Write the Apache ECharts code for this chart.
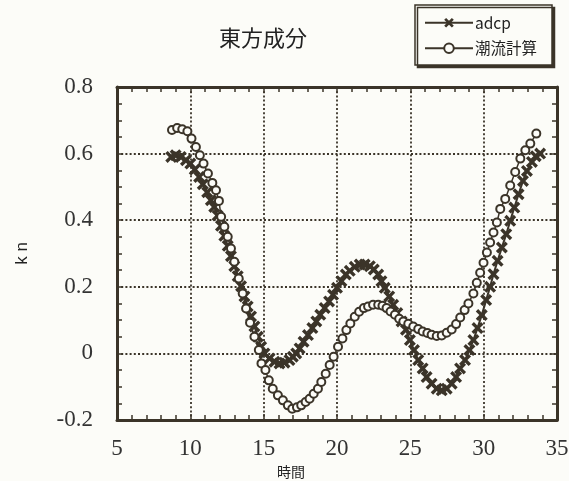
<!DOCTYPE html>
<html>
<head>
<meta charset="utf-8">
<script src="https://cdn.jsdelivr.net/npm/echarts@6/dist/echarts.min.js"></script>
<style>
html,body{margin:0;padding:0;background:#fcfcf8;}
#chart{width:569px;height:481px;}
</style>
</head>
<body>
<div id="chart"></div>
<script>
// 時間 (hours) and 東方成分 (kn)
const adcpX = [8.7, 9.0, 9.35, 9.7, 10.0, 10.3, 10.6, 10.85, 11.15, 11.4, 11.63, 11.86, 12.09, 12.32, 12.55, 12.77, 13.0, 13.23, 13.46, 13.69, 13.91, 14.14, 14.37, 14.6, 14.83, 15.05, 15.4, 15.74, 16.08, 16.42, 16.76, 16.99, 17.22, 17.45, 17.72, 18.02, 18.32, 18.59, 18.86, 19.16, 19.46, 19.73, 20.0, 20.3, 20.6, 20.87, 21.21, 21.55, 21.89, 22.24, 22.51, 22.81, 23.03, 23.26, 23.56, 23.83, 24.11, 24.4, 24.7, 24.97, 25.25, 25.54, 25.84, 26.11, 26.45, 26.8, 27.14, 27.48, 27.82, 28.12, 28.39, 28.73, 29.03, 29.3, 29.58, 29.87, 30.17, 30.44, 30.67, 30.95, 31.24, 31.54, 31.81, 32.09, 32.38, 32.68, 32.95, 33.29, 33.55, 33.85];
const adcpY = [0.590, 0.595, 0.590, 0.580, 0.570, 0.552, 0.530, 0.508, 0.484, 0.460, 0.440, 0.414, 0.383, 0.353, 0.323, 0.292, 0.262, 0.232, 0.202, 0.171, 0.141, 0.111, 0.081, 0.050, 0.020, 0.0, -0.015, -0.025, -0.030, -0.028, -0.020, -0.010, 0.0, 0.015, 0.035, 0.055, 0.076, 0.096, 0.116, 0.136, 0.156, 0.176, 0.197, 0.217, 0.237, 0.248, 0.260, 0.267, 0.267, 0.262, 0.252, 0.237, 0.217, 0.197, 0.171, 0.146, 0.121, 0.096, 0.071, 0.040, 0.010, -0.020, -0.045, -0.071, -0.091, -0.106, -0.111, -0.106, -0.091, -0.071, -0.045, -0.020, 0.010, 0.040, 0.076, 0.115, 0.160, 0.200, 0.238, 0.278, 0.318, 0.358, 0.398, 0.438, 0.478, 0.518, 0.548, 0.575, 0.592, 0.600];

const calcX = [8.75, 9.1, 9.45, 9.8, 10.08, 10.38, 10.65, 10.9, 11.2, 11.5, 11.75, 11.95, 12.1, 12.32, 12.55, 12.77, 13.0, 13.3, 13.57, 13.8, 14.07, 14.37, 14.67, 14.85, 15.12, 15.35, 15.62, 15.97, 16.31, 16.65, 16.95, 17.27, 17.56, 17.86, 18.13, 18.41, 18.7, 18.93, 19.23, 19.5, 19.77, 20.07, 20.37, 20.64, 20.91, 21.21, 21.51, 21.83, 22.12, 22.46, 22.81, 23.1, 23.38, 23.65, 23.95, 24.24, 24.52, 24.86, 25.2, 25.54, 25.84, 26.16, 26.45, 26.8, 27.14, 27.48, 27.82, 28.12, 28.4, 28.7, 28.96, 29.3, 29.53, 29.76, 29.99, 30.22, 30.44, 30.67, 30.9, 31.13, 31.47, 31.81, 32.15, 32.5, 32.84, 33.18, 33.59];
const calcY = [0.671, 0.677, 0.673, 0.667, 0.645, 0.620, 0.595, 0.570, 0.540, 0.512, 0.490, 0.458, 0.41, 0.38, 0.35, 0.315, 0.275, 0.225, 0.18, 0.135, 0.092, 0.05, 0.01, -0.03, -0.05, -0.081, -0.106, -0.126, -0.141, -0.156, -0.166, -0.162, -0.156, -0.146, -0.136, -0.121, -0.106, -0.086, -0.061, -0.035, -0.01, 0.02, 0.045, 0.07, 0.09, 0.11, 0.125, 0.136, 0.141, 0.146, 0.146, 0.143, 0.136, 0.126, 0.116, 0.104, 0.096, 0.089, 0.081, 0.073, 0.066, 0.061, 0.056, 0.052, 0.054, 0.062, 0.072, 0.088, 0.108, 0.13, 0.15, 0.18, 0.212, 0.242, 0.272, 0.303, 0.333, 0.363, 0.393, 0.434, 0.464, 0.504, 0.545, 0.585, 0.61, 0.63, 0.66];

const seriesNames = ['adcp', '潮流計算'];
const titleText = '東方成分';
const xName = '時間';
const yName = 'k n';

const ink = '#3b3429';
const bg = '#fcfcf8';
const xMark = 'path://M0,2 L2,0 L5,3 L8,0 L10,2 L7,5 L10,8 L8,10 L5,7 L2,10 L0,8 L3,5 Z';

const zip = (xs, ys) => xs.map((x, i) => [x, ys[i]]);

const chart = echarts.init(document.getElementById('chart'), null, {renderer: 'canvas'});

const tickCommon = {
  axisLine: {show: true, onZero: false, lineStyle: {color: ink, width: 3}},
  axisTick: {show: true, inside: true, length: 6, lineStyle: {color: ink, width: 1.5}},
  minorTick: {show: true, length: 5, lineStyle: {color: ink, width: 1.5}},
};

chart.setOption({
  backgroundColor: bg,
  animation: false,
  title: {
    text: titleText, left: 258, top: 22, textAlign: 'center',
    textStyle: {fontFamily: 'Noto Sans CJK JP', fontSize: 22, fontWeight: 'normal', color: '#222'}
  },
  legend: {
    left: 415, top: 5, orient: 'vertical', itemGap: 10,
    backgroundColor: bg, borderColor: ink, borderWidth: 1.5, padding: [10, 15, 9, 9],
    shadowColor: ink, shadowOffsetX: 2.5, shadowOffsetY: 2.5, shadowBlur: 0,
    itemWidth: 48, itemHeight: 12,
    textStyle: {fontFamily: 'Noto Sans CJK JP', fontSize: 15.5, color: '#222', padding: [0, 0, 0, -3]},
    data: seriesNames
  },
  grid: {left: 117, right: 12, top: 87, bottom: 61, show: false, outerBoundsMode: 'none', containLabel: false},
  xAxis: [{
    type: 'value', min: 5, max: 35, interval: 5, position: 'bottom',
    name: xName, nameLocation: 'middle', nameGap: 42,
    nameTextStyle: {fontFamily: 'Noto Sans CJK JP', fontSize: 14, color: '#222', padding: [0, 92, 0, 0]},
    ...tickCommon, minorTick: {...tickCommon.minorTick, splitNumber: 5},
    axisLabel: {fontFamily: 'Liberation Serif', fontSize: 23, color: '#333', margin: 17},
    splitLine: {show: true, lineStyle: {color: ink, width: 1.8, type: [2, 2.2]}}
  }, {
    type: 'value', min: 5, max: 35, interval: 5, position: 'top',
    ...tickCommon, minorTick: {...tickCommon.minorTick, splitNumber: 5},
    axisLabel: {show: false}, splitLine: {show: false}
  }],
  yAxis: [{
    type: 'value', min: -0.2, max: 0.8, interval: 0.2, position: 'left',
    name: yName, nameLocation: 'middle', nameGap: 86, nameRotate: 90,
    nameTextStyle: {fontFamily: 'Liberation Sans', fontSize: 17, color: '#222'},
    ...tickCommon, minorTick: {...tickCommon.minorTick, splitNumber: 4},
    axisLabel: {fontFamily: 'Liberation Serif', fontSize: 23, color: '#333', margin: 24,
      formatter: v => (Math.round(v * 10) / 10).toString()},
    splitLine: {show: true, lineStyle: {color: ink, width: 1.8, type: [2, 2.2]}}
  }, {
    type: 'value', min: -0.2, max: 0.8, interval: 0.2, position: 'right',
    ...tickCommon, minorTick: {...tickCommon.minorTick, splitNumber: 4},
    axisLabel: {show: false}, splitLine: {show: false}
  }],
  series: [{
    name: seriesNames[0], type: 'line', xAxisIndex: 0, yAxisIndex: 0,
    data: zip(adcpX, adcpY),
    symbol: xMark, symbolSize: 12, showAllSymbol: true,
    lineStyle: {color: ink, width: 2},
    itemStyle: {color: ink},
    z: 3
  }, {
    name: seriesNames[1], type: 'line', xAxisIndex: 0, yAxisIndex: 0,
    data: zip(calcX, calcY),
    symbol: 'circle', symbolSize: 8, showAllSymbol: true,
    lineStyle: {color: ink, width: 1.5},
    itemStyle: {color: bg, borderColor: ink, borderWidth: 2},
    z: 4
  }]
});
</script>
</body>
</html>
